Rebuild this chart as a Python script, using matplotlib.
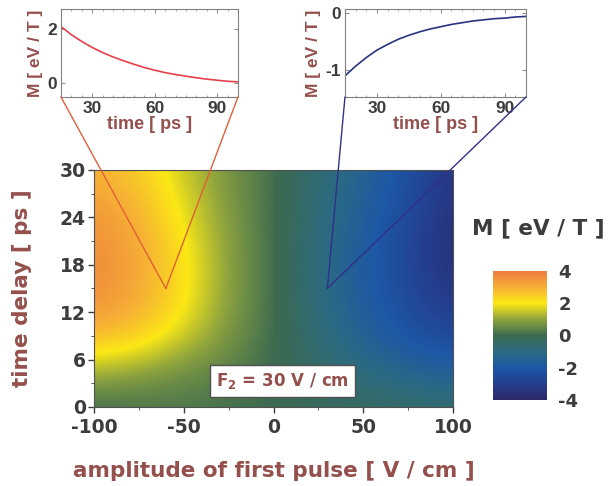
import numpy as np
import matplotlib
matplotlib.use("Agg")
import matplotlib.pyplot as plt
from matplotlib.colors import LinearSegmentedColormap
from matplotlib.patches import ConnectionPatch

plt.rcParams['font.family'] = ['DejaVu Sans']
plt.rcParams['font.weight'] = 'bold'
plt.rcParams['axes.unicode_minus'] = False

# main map: M(F1, tau) on a coarse grid
amplitude = [-100, -75, -50, -25, 0, 25, 50, 75, 100]
delay = [0, 5, 10, 15, 20, 25, 30]
M_map = [
    [0.0, 0.1, 0.2, 0.1, 0.0, -0.2, -0.3, -0.4, -0.5],   # tau = 0
    [1.4, 1.1, 0.7, 0.4, 0.0, -0.5, -1.0, -1.5, -1.8],   # 5
    [3.2, 2.8, 1.8, 0.8, 0.1, -0.8, -1.6, -2.3, -2.8],   # 10
    [3.7, 3.2, 2.2, 0.9, 0.1, -0.9, -1.8, -2.6, -3.4],   # 15
    [3.7, 3.2, 2.1, 0.9, 0.1, -0.9, -1.8, -2.7, -3.6],   # 20
    [3.4, 3.0, 1.8, 0.8, 0.1, -0.8, -1.6, -2.5, -3.5],   # 25
    [3.0, 2.5, 1.5, 0.7, 0.1, -0.7, -1.4, -2.3, -3.4],   # 30
]

# insets: time evolution at (F1=-60, tau=15) and (F1=30, tau=15)
time_ps = [15, 20, 25, 30, 35, 40, 45, 50, 55, 60, 65, 70, 75, 80, 85, 90, 95, 100]
M_red = [2.1, 1.8, 1.55, 1.33, 1.14, 0.98, 0.84, 0.71, 0.59, 0.49, 0.40,
         0.33, 0.27, 0.21, 0.16, 0.12, 0.08, 0.06]
M_blue = [-1.1, -0.93, -0.78, -0.65, -0.55, -0.46, -0.39, -0.33, -0.28,
          -0.24, -0.2, -0.17, -0.14, -0.12, -0.1, -0.09, -0.07, -0.06]
point_red = (-60, 15)
point_blue = (30, 15)

cb_ticks = [4, 2, 0, -2, -4]

label_col = '#94504c'
tick_col = '#3c3c3c'
inset_font = ['Liberation Sans', 'DejaVu Sans']

cmap = LinearSegmentedColormap.from_list('m', [
    (0.0, '#2e2866'), (0.125, '#243e8e'), (0.25, '#1d58a6'),
    (0.375, '#2c6a82'), (0.5, '#3c6a50'), (0.625, '#8fa43e'),
    (0.75, '#fbe815'), (0.875, '#f6b135'), (1.0, '#ee7c40')])

fig = plt.figure(figsize=(6.08, 4.86), dpi=100)

ax = fig.add_axes([0.1546, 0.1626, 0.5905, 0.4877])
im = ax.imshow(np.array(M_map), origin='lower', cmap=cmap, vmin=-4, vmax=4,
               extent=[-112.5, 112.5, -2.5, 32.5], aspect='auto',
               interpolation='bicubic')
ax.set_xlim(-100, 100)
ax.set_ylim(0, 30)
ax.set_xticks([-100, -50, 0, 50, 100])
ax.set_yticks([0, 6, 12, 18, 24, 30])
ax.set_xticks(np.arange(-100, 101, 25), minor=True)
ax.set_yticks(np.arange(0, 31, 3), minor=True)
ax.tick_params(labelsize=13.5, colors=tick_col, length=4, width=1,
               direction='out', pad=2)
ax.tick_params(axis='x', pad=4)
ax.tick_params(which='minor', length=2.5, color=tick_col)
for s in ax.spines.values():
    s.set_color('#505050')
ax.set_xlabel('amplitude of first pulse [ V / cm ]', fontsize=15.5,
              color=label_col, fontweight='bold', labelpad=17)
ax.set_ylabel('time delay [ ps ]', fontsize=15.5, color=label_col,
              fontweight='bold', labelpad=20)
ax.text(5, 3.3, 'F$_{\\mathbf{2}}$ = 30 V / cm', ha='center', va='center',
        fontsize=12, color=label_col, fontweight='bold',
        bbox=dict(boxstyle='square,pad=0.35', fc='white', ec='#505050', lw=1))

# colorbar
cax = fig.add_axes([0.8109, 0.1770, 0.0888, 0.2654])
cb = fig.colorbar(im, cax=cax, ticks=cb_ticks)
cb.outline.set_visible(False)
cax.tick_params(labelsize=13, colors=tick_col, length=0, pad=8)
fig.text(0.885, 0.53, 'M [ eV / T ]', ha='center', va='center', fontsize=15.5,
         color=tick_col, fontweight='bold')


def inset(rect, y, col, ylim, yticks):
    a = fig.add_axes(rect)
    a.plot(time_ps, y, color=col, lw=1.2)
    a.set_xlim(15, 100)
    a.set_ylim(*ylim)
    a.set_xticks([30, 60, 90])
    a.set_yticks(yticks)
    a.set_xticks(np.arange(20, 101, 5), minor=True)
    a.tick_params(labelsize=12.5, colors=tick_col, length=3, direction='in',
                  top=True, right=True, pad=3)
    a.tick_params(which='minor', length=1.5, direction='in', top=True,
                  right=True, color='#909090')
    a.tick_params(axis='both', which='major', color='#909090')
    for lab in a.get_xticklabels() + a.get_yticklabels():
        lab.set_family(inset_font)
        lab.set_fontweight('bold')
    for s in a.spines.values():
        s.set_color('#808080')
    a.set_xlabel('time [ ps ]', fontsize=13, color=label_col,
                 fontweight='bold', labelpad=0, family=inset_font)
    a.set_ylabel('M [ eV / T ]', fontsize=12.5, color=label_col,
                 fontweight='bold', labelpad=3, family=inset_font)
    return a


ax1 = inset([0.1003, 0.8004, 0.2911, 0.1811], M_red, '#e8404a',
            (-0.5, 2.75), [0, 2])
ax2 = inset([0.5674, 0.8004, 0.2977, 0.1811], M_blue, '#283480',
            (-1.47, 0.07), [-1, 0])

for a, pt, col in [(ax1, point_red, '#e0603a'), (ax2, point_blue, '#30308a')]:
    for corner in [(0, 0), (1, 0)]:
        con = ConnectionPatch(xyA=corner, coordsA=a.transAxes, xyB=pt,
                              coordsB=ax.transData, color=col, lw=1.0)
        fig.add_artist(con)

plt.savefig('out.png', dpi=100)
plt.close()
